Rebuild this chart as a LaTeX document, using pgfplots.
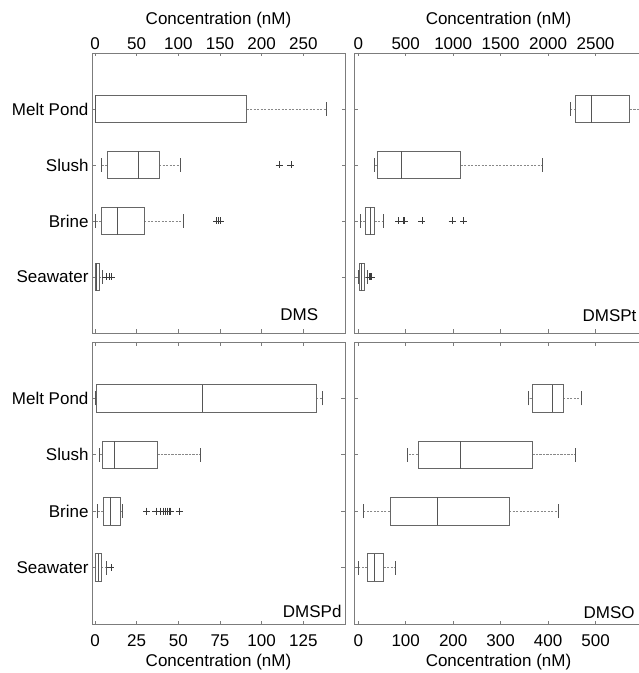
\documentclass[border=0pt]{standalone}
\usepackage{pgfplots}
\pgfplotsset{compat=1.18}
\usepgfplotslibrary{statistics}
\usepackage{fontspec}
\setmainfont{Liberation Sans}
\definecolor{framec}{HTML}{7C7C7C}
\definecolor{boxc}{HTML}{666666}
\definecolor{medc}{HTML}{555555}
\definecolor{whc}{HTML}{888888}
\definecolor{outc}{HTML}{3A3A3A}
\newcommand{\fs}{\fontsize{17}{20}\selectfont}

\pgfplotsset{
  boxplot/draw direction=x,
  boxplot/box extend=0.49,
  boxplot/whisker extend=0.245,
  boxplot/every box/.style={draw=boxc, line width=0.85pt},
  boxplot/every median/.style={draw=medc, line width=0.85pt},
  boxplot/draw/lower whisker/.code={%
    \draw[whc, dash pattern=on 2.2pt off 1.3pt, line width=0.75pt]
      (boxplot box cs:\pgfplotsboxplotvalue{lower quartile},0.5) --
      (boxplot box cs:\pgfplotsboxplotvalue{lower whisker},0.5);
    \draw[medc, line width=0.85pt]
      (boxplot whisker cs:\pgfplotsboxplotvalue{lower whisker},0) --
      (boxplot whisker cs:\pgfplotsboxplotvalue{lower whisker},1);
  },
  boxplot/draw/upper whisker/.code={%
    \draw[whc, dash pattern=on 2.2pt off 1.3pt, line width=0.75pt]
      (boxplot box cs:\pgfplotsboxplotvalue{upper quartile},0.5) --
      (boxplot box cs:\pgfplotsboxplotvalue{upper whisker},0.5);
    \draw[medc, line width=0.85pt]
      (boxplot whisker cs:\pgfplotsboxplotvalue{upper whisker},0) --
      (boxplot whisker cs:\pgfplotsboxplotvalue{upper whisker},1);
  },
  panel/.style={
    scale only axis,
    anchor=south west,
    ymin=0, ymax=5,
    ytick={1,2,3,4},
    tick align=inside,
    major tick length=3.5pt,
    xtick pos=both, ytick pos=both,
    axis line style={framec, line width=0.85pt},
    tick style={framec, line width=0.7pt},
    every tick label/.append style={font=\fs, text=black},
    label style={font=\fs},
    /pgf/number format/assume math mode=true,
    /pgf/number format/1000 sep={},
  },
  toprow/.style={
    xticklabel pos=upper,
    xticklabel style={anchor=base, inner sep=0pt, yshift=3.3pt},
    xlabel={Concentration (nM)},
    xlabel style={at={(axis description cs:0.5,1)}, anchor=base, inner sep=0pt, yshift=28pt},
  },
  botrow/.style={
    xticklabel pos=lower,
    xticklabel style={anchor=base, inner sep=0pt, yshift=-22.7pt},
    xlabel={Concentration (nM)},
    xlabel style={at={(axis description cs:0.5,0)}, anchor=base, inner sep=0pt, yshift=-42.7pt},
  },
  outl/.style={only marks, mark=+, mark size=3.5pt, outc, mark options={line width=0.6pt}},
}

\begin{document}
\begin{tikzpicture}
% ---------------- DMS (top left)
\begin{axis}[panel, toprow, at={(92pt,340pt)}, width=253pt, height=280pt,
  xmin=-3.6, xmax=300, xtick={0,50,100,150,200,250},
  yticklabels={Seawater,Brine,Slush,Melt Pond}]
\addplot[boxplot prepared={draw position=1, lower whisker=0.2, lower quartile=0.8, median=2.0, upper quartile=4.8, upper whisker=8.5}] coordinates {};
\addplot[boxplot prepared={draw position=2, lower whisker=0.8, lower quartile=7.6, median=27, upper quartile=59, upper whisker=106}] coordinates {};
\addplot[boxplot prepared={draw position=3, lower whisker=7.2, lower quartile=14.8, median=52, upper quartile=77, upper whisker=103}] coordinates {};
\addplot[boxplot prepared={draw position=4, lower whisker=0.3, lower quartile=0.8, median=0.8, upper quartile=182, upper whisker=278}] coordinates {};
\addplot[outl] coordinates {(13,1) (17,1) (20,1) (146,2) (148,2) (150,2) (221,3) (235,3)};
\node[anchor=base east, font=\fs, inner sep=0pt] at (rel axis cs:0.8945,0.0464) {DMS};
\end{axis}
% ---------------- DMSPt (top right)
\begin{axis}[panel, toprow, at={(354pt,340pt)}, width=289pt, height=280pt,
  xmin=-45, xmax=3000, xtick={0,500,1000,1500,2000,2500},
  yticklabels={}]
\addplot[boxplot prepared={draw position=1, lower whisker=3, lower quartile=12, median=30, upper quartile=62, upper whisker=95}] coordinates {};
\addplot[boxplot prepared={draw position=2, lower whisker=25, lower quartile=78, median=123, upper quartile=172, upper whisker=262}] coordinates {};
\addplot[boxplot prepared={draw position=3, lower whisker=165, lower quartile=204, median=457, upper quartile=1078, upper whisker=1942}] coordinates {};
\addplot[boxplot prepared={draw position=4, lower whisker=2240, lower quartile=2293, median=2458, upper quartile=2862, upper whisker=2985}] coordinates {};
\addplot[outl] coordinates {(115,1) (130,1) (140,1) (425,2) (470,2) (490,2) (670,2) (990,2) (1110,2)};
\node[anchor=base east, font=\fs, inner sep=0pt] at (rel axis cs:0.978,0.040) {DMSPt};
\end{axis}
% ---------------- DMSPd (bottom left)
\begin{axis}[panel, botrow, at={(92pt,49pt)}, width=253pt, height=282pt,
  xmin=-1.8, xmax=150, xtick={0,25,50,75,100,125},
  yticklabels={Seawater,Brine,Slush,Melt Pond}]
\addplot[boxplot prepared={draw position=1, lower whisker=0.1, lower quartile=0.3, median=1.9, upper quartile=3.6, upper whisker=7}] coordinates {};
\addplot[boxplot prepared={draw position=2, lower whisker=1.6, lower quartile=5, median=9, upper quartile=15.4, upper whisker=16.6}] coordinates {};
\addplot[boxplot prepared={draw position=3, lower whisker=2.4, lower quartile=4.2, median=11.6, upper quartile=37.4, upper whisker=63.4}] coordinates {};
\addplot[boxplot prepared={draw position=4, lower whisker=0.4, lower quartile=0.6, median=64.4, upper quartile=132.6, upper whisker=136.4}] coordinates {};
\addplot[outl] coordinates {(9.5,1) (31,2) (36.5,2) (39,2) (41,2) (42.3,2) (43.3,2) (44.3,2) (45.3,2) (50.5,2)};
\node[anchor=base east, font=\fs, inner sep=0pt] at (rel axis cs:0.987,0.022) {DMSPd};
\end{axis}
% ---------------- DMSO (bottom right)
\begin{axis}[panel, botrow, at={(354pt,49pt)}, width=289pt, height=282pt,
  xmin=-9, xmax=600, xtick={0,100,200,300,400,500},
  yticklabels={}]
\addplot[boxplot prepared={draw position=1, lower whisker=0, lower quartile=19, median=34.5, upper quartile=53.4, upper whisker=78.7}] coordinates {};
\addplot[boxplot prepared={draw position=2, lower whisker=10.6, lower quartile=66.8, median=165.8, upper quartile=318, upper whisker=421.4}] coordinates {};
\addplot[boxplot prepared={draw position=3, lower whisker=103, lower quartile=125.8, median=215.7, upper quartile=367, upper whisker=457}] coordinates {};
\addplot[boxplot prepared={draw position=4, lower whisker=359.6, lower quartile=367, median=408.8, upper quartile=432, upper whisker=470}] coordinates {};
\node[anchor=base east, font=\fs, inner sep=0pt] at (rel axis cs:0.972,0.018) {DMSO};
\end{axis}
\pgfresetboundingbox
\useasboundingbox (0pt,0pt) rectangle (639pt,673pt);
\end{tikzpicture}
\end{document}
